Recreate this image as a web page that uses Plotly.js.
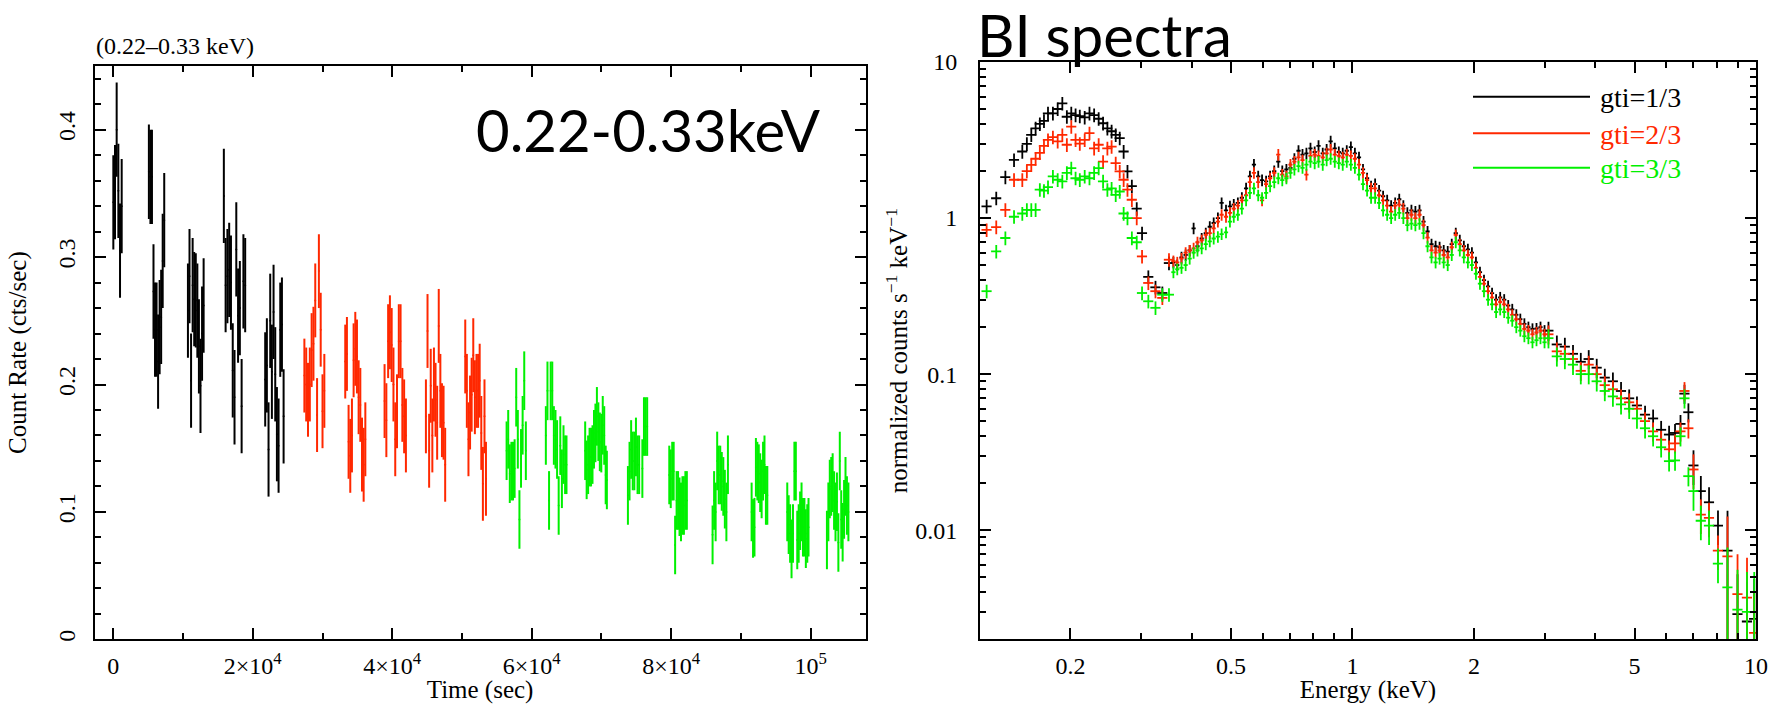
<!DOCTYPE html>
<html>
<head>
<meta charset="utf-8">
<script src="https://cdn.plot.ly/plotly-3.0.1.min.js"></script>
<style>
html,body{margin:0;padding:0;background:#ffffff;}
#chart{width:1779px;height:704px;}
</style>
</head>
<body>
<div id="chart"></div>
<script>
// ---------------- Light curve (0.22-0.33 keV) ----------------
const timeBlack = [0,240,480,720,960,1200,
  5100,5320,5540,5760,5980,6200,6420,6640,6860,7080,7300,
  10700,10925,11150,11375,11600,11825,12050,12275,12500,12725,12950,
  15850,16105,16360,16615,16870,17125,17380,17635,17890,18145,18400,18655,18910,
  21780,22020,22260,22500,22740,22980,23220,23460,23700,23940,24180,24420];
const rateBlack = [0.343,0.351,0.400,0.352,0.305,0.340,
  0.367,0.363,0.363,0.273,0.243,0.243,0.218,0.245,0.253,0.297,0.329,
  0.258,0.285,0.203,0.278,0.267,0.266,0.258,0.230,0.199,0.240,0.262,
  0.348,0.278,0.285,0.290,0.280,0.211,0.190,0.306,0.254,0.260,0.183,0.281,0.278,
  0.204,0.215,0.149,0.250,0.210,0.257,0.208,0.161,0.152,0.243,0.247,0.175];

const timeRed = [27400,27660,27920,28180,28440,28700,28960,29220,29480,29740,30000,30260,
  33260,33500,33740,33980,34220,34460,34700,34940,35180,35420,35660,35900,36140,
  38900,39155,39410,39665,39920,40175,40430,40685,40940,41195,41450,41705,41960,
  44830,45060,45290,45520,45750,45980,46210,46440,46670,46900,47130,47360,47590,
  50470,50700,50930,51160,51390,51620,51850,52080,52310,52540,52770,53000,53230,53440];
const rateRed = [0.207,0.200,0.188,0.200,0.227,0.232,0.266,0.176,0.289,0.243,0.179,0.195,
  0.218,0.224,0.155,0.144,0.160,0.219,0.228,0.222,0.190,0.184,0.145,0.137,0.157,
  0.187,0.172,0.234,0.241,0.231,0.200,0.157,0.179,0.234,0.234,0.184,0.175,0.160,
  0.175,0.242,0.148,0.199,0.160,0.200,0.188,0.170,0.246,0.195,0.172,0.170,0.137,
  0.222,0.195,0.157,0.178,0.192,0.223,0.190,0.195,0.195,0.203,0.162,0.122,0.175,0.126];

const timeGreen = [56400,56630,56860,57090,57320,57550,57780,58010,58240,58470,58700,58930,59160,
  62030,62260,62490,62720,62950,63180,63410,63640,63870,64100,64330,64560,64790,64990,
  67670,67880,68090,68300,68510,68720,68930,69140,69350,69560,69770,69980,70190,70400,70610,70780,
  73800,74030,74260,74490,74720,74950,75180,75410,75870,76100,76330,76560,
  79730,79940,80150,80360,80570,80780,80990,81200,81410,81620,81830,82040,82250,
  85940,86160,86380,86600,86820,87040,87260,87480,87700,87920,88140,
  91540,91745,91950,92155,92360,92565,92770,92975,93180,93385,93590,93790,
  96650,96855,97060,97265,97470,97675,97880,98085,98290,98495,98700,98905,99110,99315,99520,99700,
  102340,102545,102750,102955,103160,103365,103570,103775,103980,104185,104390,104595,104800,105005,105210,105420];
const rateGreen = [0.148,0.157,0.130,0.132,0.132,0.134,0.190,0.157,0.094,0.142,0.168,0.203,0.148,
  0.160,0.195,0.109,0.195,0.195,0.160,0.157,0.149,0.105,0.152,0.126,0.145,0.137,0.137,
  0.148,0.133,0.137,0.143,0.143,0.145,0.157,0.162,0.175,0.163,0.155,0.154,0.168,0.160,0.129,0.125,
  0.113,0.132,0.149,0.140,0.140,0.151,0.137,0.137,0.134,0.167,0.167,0.167,
  0.129,0.126,0.132,0.132,0.074,0.109,0.109,0.104,0.100,0.105,0.105,0.109,0.109,
  0.082,0.109,0.100,0.140,0.129,0.129,0.124,0.120,0.110,0.100,0.137,
  0.100,0.087,0.088,0.135,0.132,0.130,0.123,0.118,0.132,0.137,0.113,0.113,
  0.100,0.090,0.083,0.071,0.083,0.132,0.132,0.078,0.083,0.093,0.100,0.088,0.088,0.079,0.083,0.088,
  0.078,0.100,0.118,0.120,0.123,0.109,0.100,0.108,0.076,0.140,0.094,0.084,0.102,0.120,0.105,0.100];

const rateErr = {black: 0.037, red: 0.029, green: 0.023};
const timeTickVals = [0, 20000, 40000, 60000, 80000, 100000];
const timeTickText = ['0', '2×10<sup>4</sup>', '4×10<sup>4</sup>', '6×10<sup>4</sup>', '8×10<sup>4</sup>', '10<sup>5</sup>'];

// ---------------- BI spectra ----------------
const energyLow = [0.124,0.131,0.138,0.145,0.152,0.156,0.160,0.164,0.168,0.172,
  0.176,0.181,0.186,0.191,0.196,0.201,0.206,0.211,0.217,0.223,
  0.229,0.235,0.241,0.247,0.253,0.259,0.265,0.271,0.277,0.284,
  0.292,0.301,0.312,0.325,0.338,0.351];
const energyMid = [0.360,0.368,0.377,0.386,0.395,0.404,0.413,0.423,0.433,0.443,
  0.453,0.464,0.474,0.486,0.497,0.508,0.520,0.532,0.545,0.557,
  0.570,0.584,0.597,0.611,0.625,0.640,0.655,0.670,0.686,0.702,
  0.718,0.735,0.752,0.769,0.787,0.806,0.824,0.844,0.863,0.883,
  0.904,0.925,0.946,0.968,0.991,1.014,1.038,1.062,1.087,1.112,
  1.138,1.164,1.191,1.219,1.247,1.276,1.306,1.337,1.368,1.400,
  1.432,1.466,1.500,1.535,1.570,1.607,1.644,1.683,1.722,1.762,
  1.803,1.845,1.888,1.932,1.977,2.023,2.070,2.118,2.168,2.218,
  2.270,2.323,2.377,2.432,2.489,2.547,2.606,2.667,2.729,2.793,
  2.858,2.924,2.992];
const energyHigh = [3.06,3.21,3.36,3.52,3.68,3.85,4.03,4.22,4.42,4.63,
  4.85,5.07,5.31,5.56,5.82,6.09,6.30,6.50,6.65,6.80,
  7.00,7.30,7.65,8.05,8.50,9.00,9.50,9.90];

const gti1Low = [1.19,1.34,1.83,2.36,2.67,2.99,3.41,3.76,4.01,4.20,
  4.69,4.69,5.00,5.43,4.46,4.69,4.57,4.50,4.42,4.69,
  4.57,4.33,4.05,3.76,3.60,3.41,3.25,2.67,1.99,1.60,
  1.15,0.80,0.42,0.36,0.331,0.515];
const gti1Mid = [0.52,0.50,0.56,0.58,0.62,0.86,0.66,0.74,0.80,0.88,
  0.93,1.00,1.25,1.12,1.19,1.22,1.25,1.35,1.55,1.85,
  2.20,1.85,1.75,1.72,1.85,2.00,2.30,2.00,2.05,2.10,
  2.40,2.70,2.55,2.60,2.80,2.65,2.90,2.60,2.75,3.10,
  2.80,2.65,2.60,2.70,2.85,2.60,2.45,2.05,1.80,1.60,
  1.65,1.50,1.38,1.30,1.20,1.25,1.32,1.20,1.08,1.12,
  1.10,1.12,0.95,0.82,0.68,0.66,0.65,0.62,0.61,0.68,
  0.80,0.72,0.66,0.63,0.60,0.52,0.45,0.40,0.365,0.33,
  0.30,0.31,0.30,0.275,0.26,0.24,0.225,0.21,0.20,0.195,
  0.196,0.20,0.19];
const gti1High = [0.19,0.155,0.15,0.135,0.12,0.125,0.11,0.095,0.09,0.078,
  0.07,0.063,0.055,0.052,0.044,0.041,0.042,0.048,0.075,0.057,
  0.026,0.0178,0.0151,0.0107,0.0074,0.0029,0.0026,0.0027];

const gti2Low = [0.84,0.876,1.13,1.76,1.76,2.00,2.19,2.40,2.62,2.90,
  3.17,3.30,3.10,3.41,2.95,3.85,3.17,3.00,3.17,3.50,
  2.80,2.95,2.30,2.80,2.87,2.25,1.99,1.76,1.52,1.31,
  1.00,0.568,0.384,0.34,0.308,0.541];
const gti2Mid = [0.53,0.52,0.55,0.60,0.62,0.64,0.70,0.72,0.78,0.80,
  0.86,0.95,1.05,1.02,1.08,1.15,1.20,1.30,1.40,1.70,
  1.95,1.70,1.30,1.65,1.80,1.95,2.55,1.90,1.85,2.20,
  2.30,2.45,2.35,1.90,2.50,2.55,2.50,2.45,2.60,2.75,
  2.55,2.50,2.45,2.55,2.50,2.40,2.20,1.95,1.75,1.55,
  1.55,1.40,1.30,1.20,1.10,1.20,1.22,1.15,1.00,1.05,
  1.00,1.05,0.90,0.75,0.62,0.60,0.62,0.58,0.56,0.65,
  0.78,0.68,0.62,0.58,0.56,0.48,0.42,0.38,0.34,0.31,
  0.28,0.29,0.28,0.26,0.24,0.225,0.21,0.195,0.19,0.18,
  0.185,0.19,0.18];
const gti2High = [0.18,0.14,0.135,0.125,0.105,0.115,0.10,0.085,0.08,0.07,
  0.066,0.06,0.05,0.043,0.038,0.033,0.036,0.043,0.078,0.045,
  0.0245,0.0126,0.012,0.0074,0.0068,0.0039,0.0037,0.0022];

const gti3Low = [0.34,0.612,0.745,1.02,1.07,1.13,1.13,1.13,1.52,1.50,
  1.58,1.85,1.76,1.72,1.95,2.09,1.80,1.76,1.85,1.80,
  1.95,2.09,1.72,1.52,1.55,1.41,1.48,1.07,1.00,0.745,
  0.70,0.331,0.293,0.266,0.323,0.323];
const gti3Mid = [0.45,0.47,0.48,0.50,0.55,0.60,0.62,0.64,0.68,0.71,
  0.74,0.76,0.79,0.81,0.95,1.02,1.05,1.15,1.30,1.45,
  1.55,1.40,1.35,1.45,1.60,1.70,1.80,1.75,1.80,1.95,
  2.05,2.15,2.10,2.20,2.30,2.25,2.30,2.20,2.35,2.40,
  2.30,2.25,2.20,2.30,2.20,2.10,1.90,1.65,1.50,1.35,
  1.35,1.25,1.12,1.05,1.00,1.05,1.08,1.00,0.90,0.92,
  0.90,0.92,0.80,0.66,0.56,0.52,0.55,0.52,0.50,0.58,
  0.70,0.62,0.56,0.52,0.50,0.44,0.38,0.34,0.30,0.28,
  0.25,0.26,0.25,0.23,0.22,0.20,0.19,0.175,0.17,0.16,
  0.165,0.17,0.16];
const gti3High = [0.17,0.13,0.125,0.115,0.10,0.10,0.09,0.078,0.072,0.064,
  0.06,0.052,0.045,0.04,0.034,0.0277,0.028,0.04,0.07,0.0222,
  0.0178,0.0115,0.0107,0.0061,0.0043,0.0031,0.003,0.003];

// relative error sizes per energy band (band upper edges in keV)
const bandEdges = [0.355, 3.0, 6.9, 8.3, 100];
const relErrY = [0.10, 0.085, 0.14, 0.25, 0.8];
const relErrX = [0.029, 0.012, 0.029, 0.029, 0.029];

const energyTickVals = [0.2, 0.5, 1, 2, 5, 10];
const energyTickText = ['0.2', '0.5', '1', '2', '5', '10'];
const energyMinorVals = [0.3, 0.4, 0.6, 0.7, 0.8, 0.9, 3, 4, 6, 7, 8, 9];
const countTickVals = [0.01, 0.1, 1, 10];
const countTickText = ['0.01', '0.1', '1', '10'];
const countMinorVals = [0.003,0.004,0.005,0.006,0.007,0.008,0.009,
  0.02,0.03,0.04,0.05,0.06,0.07,0.08,0.09,
  0.2,0.3,0.4,0.5,0.6,0.7,0.8,0.9,
  2,3,4,5,6,7,8,9];

const seriesNames = ['gti=1/3', 'gti=2/3', 'gti=3/3'];
const seriesColors = ['#000000', '#ff2800', '#00f000'];

// ---------------- build ----------------
const energy = energyLow.concat(energyMid, energyHigh);
const spectra = [gti1Low.concat(gti1Mid, gti1High), gti2Low.concat(gti2Mid, gti2High), gti3Low.concat(gti3Mid, gti3High)];
function band(e){ for (let i = 0; i < bandEdges.length; i++) if (e <= bandEdges[i]) return i; return bandEdges.length - 1; }

const serif = 'Liberation Serif, Times New Roman, serif';
const traces = [];
function lcTrace(t, r, err, color){
  return {x: t, y: r, type: 'scatter', mode: 'markers', xaxis: 'x', yaxis: 'y', showlegend: false,
    marker: {size: 2, color: color},
    error_y: {type: 'constant', value: err, color: color, thickness: 2, width: 0},
    hoverinfo: 'x+y'};
}
traces.push(lcTrace(timeBlack, rateBlack, rateErr.black, seriesColors[0]));
traces.push(lcTrace(timeRed, rateRed, rateErr.red, seriesColors[1]));
traces.push(lcTrace(timeGreen, rateGreen, rateErr.green, seriesColors[2]));

spectra.forEach((vals, k) => {
  const ex = energy.map(e => e * relErrX[band(e)]);
  const ey = vals.map((v, i) => v * relErrY[band(energy[i])]);
  traces.push({x: energy, y: vals, type: 'scatter', mode: 'markers', xaxis: 'x2', yaxis: 'y2',
    name: seriesNames[k], showlegend: false,
    marker: {size: 1, color: seriesColors[k]},
    error_x: {type: 'data', array: ex, color: seriesColors[k], thickness: 1.8, width: 0},
    error_y: {type: 'data', array: ey, color: seriesColors[k], thickness: 1.8, width: 0}});
});

const W = 1779, H = 704;
const px = v => v / W, py = v => 1 - v / H;

const axisBase = {showline: true, linecolor: '#000', linewidth: 2, mirror: 'allticks',
  ticks: 'inside', ticklen: 11, tickwidth: 2, tickcolor: '#000',
  showgrid: false, zeroline: false,
  tickfont: {family: serif, size: 24, color: '#000'}};

const shapes = [];
const annotations = [];
const legendRowY = [96.7, 133.3, 167.7];
seriesNames.forEach((n, k) => {
  shapes.push({type: 'line', xref: 'paper', yref: 'paper', x0: px(1473), x1: px(1590),
    y0: py(legendRowY[k]), y1: py(legendRowY[k]), line: {color: seriesColors[k], width: 2}});
  annotations.push({xref: 'paper', yref: 'paper', x: px(1598), y: py(legendRowY[k] + 1),
    xanchor: 'left', yanchor: 'middle', showarrow: false, text: n,
    font: {family: serif, size: 28, color: seriesColors[k]}});
});
annotations.push({xref: 'paper', yref: 'paper', x: px(94), y: py(46), xanchor: 'left', yanchor: 'middle',
  showarrow: false, text: '(0.22–0.33 keV)', font: {family: serif, size: 24, color: '#000'}});
annotations.push({xref: 'paper', yref: 'paper', x: px(823), y: py(129), xanchor: 'right', yanchor: 'middle',
  showarrow: false, text: '0.22-0.33keV', font: {family: 'Lato, Open Sans, sans-serif', size: 58, color: '#000'}});
annotations.push({xref: 'paper', yref: 'paper', x: px(975), y: py(34), xanchor: 'left', yanchor: 'middle',
  showarrow: false, text: 'BI spectra', font: {family: 'Lato, Open Sans, sans-serif', size: 58, color: '#000'}});

const layout = {
  width: W, height: H,
  margin: {l: 0, r: 0, t: 0, b: 0},
  paper_bgcolor: '#fff', plot_bgcolor: '#fff',
  showlegend: false,
  xaxis: Object.assign({}, axisBase, {
    domain: [px(94.5), px(865.7)], range: [-2700, 107900], anchor: 'y',
    tickmode: 'array', tickvals: timeTickVals, ticktext: timeTickText,
    ticklabelstandoff: 4,
    minor: {tickmode: 'linear', tick0: 0, dtick: 10000, ticks: 'inside', ticklen: 6, tickwidth: 2, tickcolor: '#000'},
    title: {text: 'Time (sec)', font: {family: serif, size: 25, color: '#000'}, standoff: 6}
  }),
  yaxis: Object.assign({}, axisBase, {
    domain: [1 - 639.3 / H, 1 - 66 / H], range: [0, 0.45], anchor: 'x',
    tickmode: 'linear', tick0: 0, dtick: 0.1, tickangle: -90,
    ticklabelstandoff: 8,
    minor: {tickmode: 'linear', tick0: 0, dtick: 0.02, ticks: 'inside', ticklen: 6, tickwidth: 2, tickcolor: '#000'},
    title: {text: 'Count Rate (cts/sec)', font: {family: serif, size: 25, color: '#000'}, standoff: 20}
  }),
  xaxis2: Object.assign({}, axisBase, {
    type: 'log', domain: [px(980), px(1756)], range: [Math.log10(0.1194), 1], anchor: 'y2',
    tickmode: 'array', tickvals: energyTickVals, ticktext: energyTickText,
    ticklabelstandoff: 4,
    minor: {tickmode: 'array', tickvals: energyMinorVals, ticks: 'inside', ticklen: 6, tickwidth: 2, tickcolor: '#000'},
    title: {text: 'Energy (keV)', font: {family: serif, size: 25, color: '#000'}, standoff: 6}
  }),
  yaxis2: Object.assign({}, axisBase, {
    type: 'log', domain: [1 - 639.3 / H, 1 - 62 / H], range: [Math.log10(0.002), 1], anchor: 'x2',
    tickmode: 'array', tickvals: countTickVals, ticktext: countTickText,
    ticklabelstandoff: 16,
    minor: {tickmode: 'array', tickvals: countMinorVals, ticks: 'inside', ticklen: 6, tickwidth: 2, tickcolor: '#000'},
    title: {text: 'normalized counts s<sup>−1</sup> keV<sup>−1</sup>', font: {family: serif, size: 25, color: '#000'}, standoff: 0}
  }),
  shapes: shapes,
  annotations: annotations
};

Plotly.newPlot('chart', traces, layout, {displayModeBar: false, staticPlot: true});
</script>
</body>
</html>
